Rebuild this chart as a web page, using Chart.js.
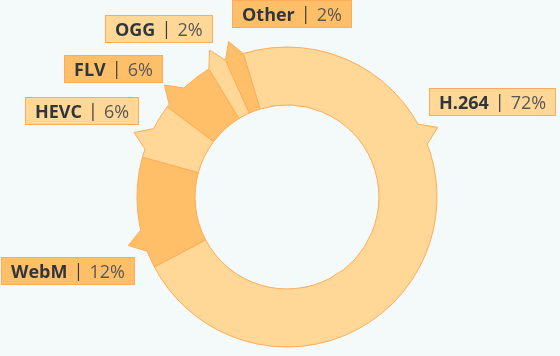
<!DOCTYPE html>
<html><head><meta charset="utf-8">
<script src="https://cdn.jsdelivr.net/npm/chart.js@4"></script>
<style>html,body{margin:0;padding:0;background:#f4f9fa;}canvas{display:block;}</style>
</head><body>
<canvas id="c" width="560" height="356"></canvas>
<script>
// ---- data ----
const categories = ['H.264', 'WebM', 'HEVC', 'FLV', 'OGG', 'Other'];
const shares = [72, 12, 6, 6, 2, 2];
const valueSuffix = '%';

// ---- styles / layout ----
const sliceColors = ['#ffd796', '#ffbf69', '#ffd796', '#ffbf69', '#ffd796', '#ffbf69'];
const edgeColor = '#ffab57';
const labelCentres = [[493, 101.7], [67.5, 271.2], [82.5, 110.7], [113.2, 69.3], [159, 28.7], [291.7, 14.2]];

const calloutPlugin = {
  id: 'callouts',
  afterDatasetsDraw(chart) {
    const ctx = chart.ctx;
    const meta = chart.getDatasetMeta(0);
    ctx.save();
    meta.data.forEach((arc, i) => {
      const p = arc.getProps(['x', 'y', 'startAngle', 'endAngle', 'outerRadius'], true);
      const cx = p.x, cy = p.y, R = p.outerRadius;
      const s = p.startAngle, e = p.endAngle, w = e - s;
      const halfMax = 11 / R;
      const mid = (s + e) / 2;
      const [lx, ly] = labelCentres[i];
      let la = Math.atan2(ly - cy, lx - cx);
      while (la - mid > Math.PI) la -= 2 * Math.PI;
      while (la - mid < -Math.PI) la += 2 * Math.PI;
      let half, c;
      if (w / 2 <= halfMax) { half = w / 2; c = mid; }
      else {
        half = halfMax;
        c = Math.max(mid - w / 4, Math.min(mid + w / 4, la));
        c = Math.max(s + half, Math.min(e - half, c));
      }
      const a1 = c - half, a2 = c + half;
      const P = (a, r) => [cx + r * Math.cos(a), cy + r * Math.sin(a)];
      const tip = P(c, R + 16);
      const b1 = P(a1, R), b2 = P(a2, R);
      ctx.beginPath();
      ctx.arc(cx, cy, R - 1.5, a1, a2);
      ctx.lineTo(b2[0], b2[1]);
      ctx.lineTo(tip[0], tip[1]);
      ctx.lineTo(b1[0], b1[1]);
      ctx.closePath();
      ctx.fillStyle = sliceColors[i];
      ctx.fill();
      ctx.beginPath();
      ctx.moveTo(b1[0], b1[1]);
      ctx.lineTo(tip[0], tip[1]);
      ctx.lineTo(b2[0], b2[1]);
      ctx.strokeStyle = edgeColor;
      ctx.lineWidth = 1;
      ctx.lineJoin = 'miter';
      ctx.stroke();
    });
    // label boxes
    const boldFont = '700 18px "Open Sans"';
    const normFont = '400 18px "Open Sans"';
    const pad = 10, gap = 11, H = 28;
    categories.forEach((name, i) => {
      const val = shares[i] + valueSuffix;
      ctx.font = boldFont;
      const wName = ctx.measureText(name).width;
      ctx.font = normFont;
      const wVal = ctx.measureText(val).width;
      const W = pad + wName + gap * 2 + wVal + pad;
      const [bx, by] = labelCentres[i];
      const x0 = Math.round(bx - W / 2), y0 = Math.round(by - H / 2);
      ctx.fillStyle = sliceColors[i];
      ctx.fillRect(x0, y0, Math.round(W), H);
      ctx.strokeStyle = edgeColor;
      ctx.lineWidth = 1;
      ctx.strokeRect(x0 + 0.5, y0 + 0.5, Math.round(W) - 1, H - 1);
      const base = y0 + H / 2 + 6.5;
      ctx.textBaseline = 'alphabetic';
      ctx.textAlign = 'left';
      ctx.font = boldFont;
      ctx.fillStyle = '#30363b';
      ctx.fillText(name, x0 + pad, base);
      ctx.font = normFont;
      ctx.textAlign = 'center';
      ctx.fillStyle = '#3a3f44';
      ctx.fillText('|', x0 + pad + wName + gap, base - 0.5);
      ctx.textAlign = 'left';
      ctx.fillStyle = '#585858';
      ctx.fillText(val, x0 + pad + wName + gap * 2, base);
    });
    ctx.restore();
  }
};

new Chart(document.getElementById('c'), {
  type: 'doughnut',
  data: {
    labels: categories,
    datasets: [{
      data: shares,
      backgroundColor: sliceColors,
      borderColor: edgeColor,
      borderWidth: 1,
      hoverOffset: 0
    }]
  },
  options: {
    responsive: false,
    devicePixelRatio: 1,
    animation: false,
    rotation: -17,
    radius: 150,
    cutout: '61.3%',
    layout: { padding: { left: 14, right: 0, top: 38, bottom: 0 } },
    plugins: { legend: { display: false }, tooltip: { enabled: false }, title: { display: false } },
    events: []
  },
  plugins: [calloutPlugin]
});
</script>
</body></html>
